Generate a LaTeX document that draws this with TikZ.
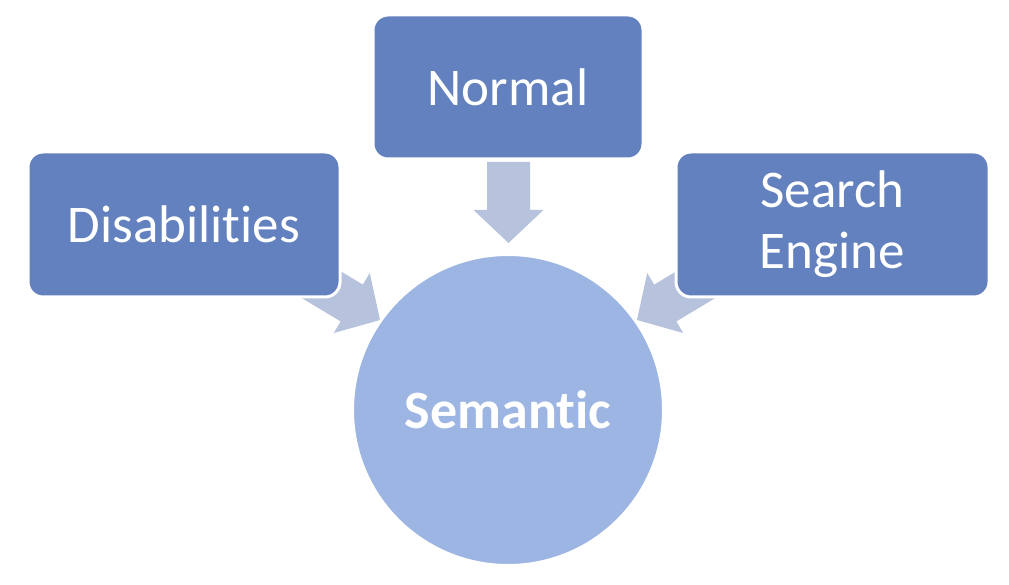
\documentclass[tikz,border=0pt]{standalone}
\usepackage{fontspec}
\setmainfont[Ligatures=NoCommon]{Carlito}
\definecolor{boxblue}{RGB}{98,129,190}
\definecolor{circblue}{RGB}{157,181,226}
\definecolor{arrowblue}{RGB}{183,194,220}
\begin{document}
\begin{tikzpicture}[x=1pt,y=-1pt,
  boxstyle/.style={draw=white,line width=3pt,fill=boxblue,rounded corners=15pt,
    text=white,font=\fontsize{53}{60}\selectfont,align=center,inner sep=0pt},
  circstyle/.style={circle,draw=white,line width=3pt,fill=circblue,text=white,
    font=\fontsize{54}{60}\selectfont\bfseries,inner sep=0pt},
  blockarrow/.style={fill=arrowblue}]
\useasboundingbox (0,0) rectangle (1009,585);
% arrows
\begin{scope}[shift={(508.5,162)},rotate=-90]
  \fill[blockarrow] (0,-21.5) -- (48,-21.5) -- (48,-35) -- (81,0) -- (48,35) -- (48,21.5) -- (0,21.5) -- cycle;
\end{scope}
\begin{scope}[shift={(310.6,278.3)},rotate=-31]
  \fill[blockarrow] (0,-21.5) -- (48,-21.5) -- (48,-35) -- (81,0) -- (48,35) -- (48,21.5) -- (0,21.5) -- cycle;
\end{scope}
\begin{scope}[shift={(706.4,278.3)},rotate=-149]
  \fill[blockarrow] (0,-21.5) -- (48,-21.5) -- (48,-35) -- (81,0) -- (48,35) -- (48,21.5) -- (0,21.5) -- cycle;
\end{scope}
% boxes
\node[boxstyle,minimum width=270pt,minimum height=144pt] (normal) at (508,87) {Normal};
\node[boxstyle,minimum width=312pt,minimum height=145pt] (dis) at (184,224.5) {Disabilities};
\node[boxstyle,minimum width=313pt,minimum height=145pt] (search) at (832.5,224.5) {Search\\[1pt]Engine};
% circle
\node[circstyle,minimum size=311pt] (sem) at (508,410) {Semantic};
\end{tikzpicture}
\end{document}
